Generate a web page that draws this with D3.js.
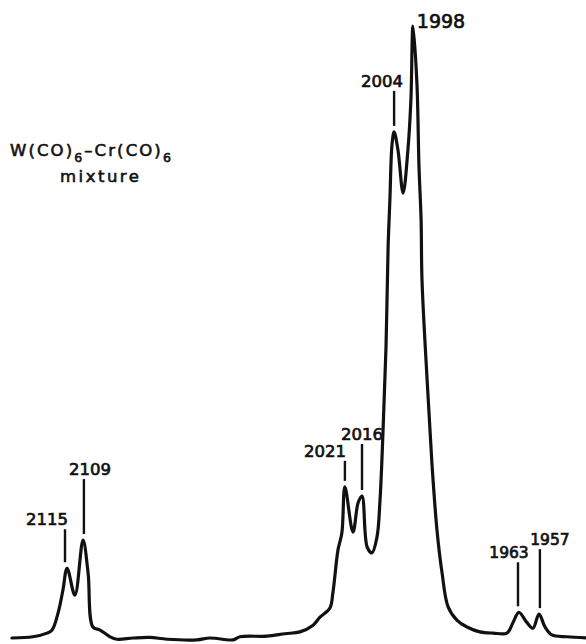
<!DOCTYPE html>
<html>
<head>
<meta charset="utf-8">
<script src="https://cdn.jsdelivr.net/npm/d3@7"></script>
<style>
  html, body { margin: 0; padding: 0; background: #fff; }
  svg { display: block; }
  text { font-family: "DejaVu Sans", sans-serif; fill: #111; }
</style>
</head>
<body>
<div id="chart"></div>
<script>
// IR trace: wavenumber (cm-1) and relative absorbance (%)
let wavenumber = [2132.7, 2125.7, 2121, 2119.3, 2117.3, 2115.7, 2114.3, 2111.7, 2109, 2107.3,
  2105.7, 2103.3, 2100, 2097.7, 2092.3, 2086.7, 2081, 2071, 2066.7, 2059,
  2056.7, 2047.7, 2041.7, 2036.7, 2032.3, 2030, 2026.7, 2025.7, 2024, 2022.7,
  2021.7, 2019, 2017.3, 2016, 2014.3, 2012.7, 2011, 2010, 2009, 2008,
  2007.3, 2006.7, 2006, 2005.3, 2004, 2002.3, 2000.7, 1999.7, 1999, 1997.7,
  1997, 1996.3, 1996, 1994.3, 1992.7, 1991, 1989.3, 1987.3, 1984.3, 1981,
  1976.7, 1972.3, 1967.7, 1965.7, 1963.7, 1961, 1959, 1957, 1955, 1952.7,
  1947.7, 1941];
let absorbance = [0, 0.2, 0.8, 1.3, 4.1, 7.8, 11.4, 7.0, 16.0, 10.6,
  1.8, 1.3, 0.2, -0.2, 0, 0.1, -0.2, -0.3, 0, -0.3,
  0.2, 0.3, 0.7, 1.0, 2.1, 3.4, 4.9, 7.4, 14.4, 17.2,
  24.7, 17.3, 22.1, 23.2, 14.9, 13.9, 16.5, 22.5, 33.7, 47.5,
  63.9, 71.6, 80.6, 82.7, 79.7, 72.7, 79.7, 87.9, 100, 90.7,
  77.0, 68.3, 58.5, 42.2, 28.6, 17.6, 10.6, 5.1, 2.9, 1.8,
  1.0, 0.8, 0.8, 2.5, 4.2, 2.5, 1.6, 3.9, 1.8, 0.5,
  0.2, 0];

// peak labels and where their marker sits
let peakLabels = ['2115', '2109', '2021', '2016', '2004', '1998', '1963', '1957'];
let peakAt = [2115, 2108.7, 2021.7, 2016, 2005.3, 1999, 1964, 1956.7];

// annotation layout (px): label shift from marker, label rise above peak, font size
let labelDx = [-18, 6, -20, 0, -12, 28, -9, 10];
let labelRise = [43, 65, 30, 56, 45, -2, 54, 69];
let labelSize = [16.5, 16.5, 16.5, 16.5, 16.5, 19, 15.5, 15.5];
let hasTick = [true, true, true, true, true, false, true, true];

let width = 586,
height = 644;

let svg = d3.select('#chart').
append('svg').
attr('width', width).
attr('height', height);

let x = d3.scaleLinear().
domain([2115, 1957]).
range([65, 539]);

let y = d3.scaleLinear().
domain([0, 100]).
range([638, 26]);

let trace = wavenumber.map((w, i) => ({ w: w, a: absorbance[i] }));

let line = d3.line().
x(d => x(d.w)).
y(d => y(d.a)).
curve(d3.curveCatmullRom.alpha(0.5));

svg.append('path').
datum(trace).
attr('d', line).
attr('fill', 'none').
attr('stroke', '#111').
attr('stroke-width', 3.2).
attr('stroke-linejoin', 'round').
attr('stroke-linecap', 'round');

// apex height near each marked wavenumber
function apex(w) {
  let near = trace.filter(d => Math.abs(d.w - w) <= 1.5);
  return d3.max(near, d => d.a);
}

let peaks = peakLabels.map((t, i) => {
  let py = y(apex(peakAt[i]));
  return {
    text: t,
    px: x(peakAt[i]),
    py: py,
    base: py - labelRise[i],
    dx: labelDx[i],
    size: labelSize[i],
    tick: hasTick[i] };
});

svg.selectAll('line.tick').
data(peaks.filter(d => d.tick)).
enter().
append('line').
attr('class', 'tick').
attr('x1', d => d.px).
attr('x2', d => d.px).
attr('y1', d => d.base + 4).
attr('y2', d => d.py - 6).
attr('stroke', '#111').
attr('stroke-width', 2.4);

svg.selectAll('text.peak').
data(peaks).
enter().
append('text').
attr('class', 'peak').
attr('x', d => d.px + d.dx).
attr('y', d => d.base).
attr('text-anchor', 'middle').
style('font-size', d => d.size + 'px').
style('stroke', '#111').
style('stroke-width', 0.7).
text(d => d.text);

// sample caption
let title = svg.append('text').
attr('x', 10).
attr('y', 156).
style('font-size', '16.5px').
style('letter-spacing', '2.1px').
style('stroke', '#111').
style('stroke-width', 0.6);
title.append('tspan').text('W(CO)');
title.append('tspan').attr('dy', 6).style('font-size', '12.5px').text('6');
title.append('tspan').attr('dy', -6).text('\u2013Cr(CO)');
title.append('tspan').attr('dy', 6).style('font-size', '12.5px').text('6');

svg.append('text').
attr('x', 60).
attr('y', 182).
style('font-size', '16.5px').
style('letter-spacing', '2.5px').
style('stroke', '#111').
style('stroke-width', 0.6).
text('mixture');
</script>
</body>
</html>
